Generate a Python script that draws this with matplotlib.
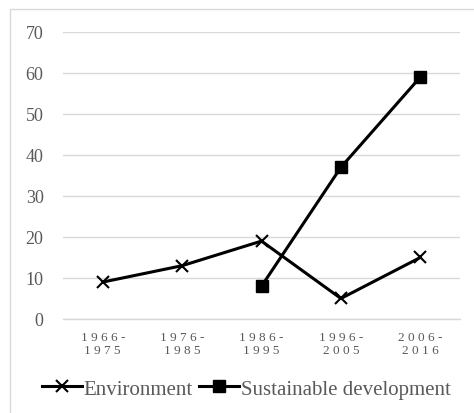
import numpy as np
import matplotlib.pyplot as plt
from matplotlib.patches import Rectangle

periods = ['1966-\n1975', '1976-\n1985', '1986-\n1995', '1996-\n2005', '2006-\n2016']
environment = [9, 13, 19, 5, 15]
sustainable = [np.nan, np.nan, 8, 37, 59]

plt.rcParams['font.family'] = ['Liberation Serif', 'DejaVu Serif']

fig = plt.figure(figsize=(4.74, 4.14), dpi=100)
ax = fig.add_axes([0.1329, 0.2271, 0.8376, 0.6932])

x = np.arange(len(periods))
ax.plot(x, environment, color='black', lw=2.2, marker='x', ms=8.5, mew=1.5,
        label='Environment')
ax.plot(x, sustainable, color='black', lw=2.2, marker='s', ms=9,
        label='Sustainable development')

# spread the period labels out like the letter-spaced originals
spaced = ['\n'.join(' '.join(part) for part in p.split('\n')) for p in periods]

ax.set_xlim(-0.5, len(periods) - 0.5)
ax.set_ylim(0, 70)
ax.set_yticks(range(0, 71, 10))
ax.set_xticks(x)
ax.set_xticklabels(spaced, fontsize=9.5, color='#595959', linespacing=1.1)
ax.tick_params(axis='y', labelsize=13, labelcolor='#595959', length=0, pad=14)
ax.tick_params(axis='x', length=0, pad=9)
ax.grid(axis='y', color='#d9d9d9', lw=1)
ax.set_axisbelow(True)
for s in ['top', 'right', 'left']:
    ax.spines[s].set_visible(False)
ax.spines['bottom'].set_color('#d9d9d9')
ax.spines['bottom'].set_linewidth(1)

fig.legend(loc='center', bbox_to_anchor=(0.52, 0.058), ncol=2, frameon=False,
           fontsize=15, handlelength=1.9, handletextpad=0.1, columnspacing=0.3,
           labelcolor='#595959')

fig.patches.append(Rectangle((10 / 474, -0.1), 1.2, 1 - 10 / 414 + 0.1,
                             transform=fig.transFigure, fill=False,
                             edgecolor='#d9d9d9', lw=1))

fig.savefig('out.png', dpi=100)
